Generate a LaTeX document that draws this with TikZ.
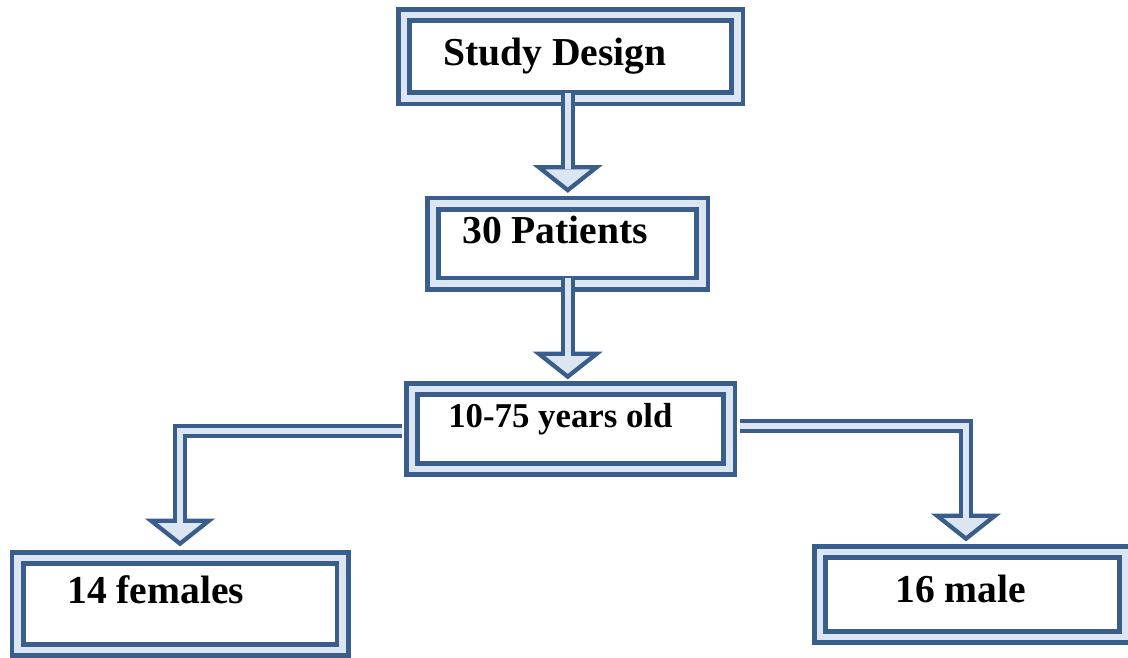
\documentclass[tikz,border=0pt]{standalone}
\usepackage{fontspec}
\setmainfont{Liberation Serif}
\usetikzlibrary{calc}
\definecolor{bxd}{HTML}{3A5E8C}
\definecolor{bxl}{HTML}{DCE6F2}
\tikzset{
    box/.style={rectangle,draw=bxd,line width=3.5pt,double=bxl,double distance=5pt,fill=white,inner sep=0pt},
    shaft/.style={draw=bxd,line width=3.3pt,double=bxl,double distance=4.2pt},
    head/.style={draw=bxd,fill=bxl,line width=3.2pt},
    txt/.style={font=\bfseries\fontsize{29.7}{34}\selectfont,inner sep=0pt,anchor=base west}
}

\begin{document}
\begin{tikzpicture}[x=0.75pt,y=-0.75pt]
            \useasboundingbox (0,0) rectangle (1128,657);
            % boxes
            \node [box,minimum width=250.1pt,minimum height=62.6pt] (design) at (570.75,56.75) {};
            \node [box,minimum width=202.1pt,minimum height=60pt] (patients) at (567.75,243.5) {};
            \node [box,minimum width=238.1pt,minimum height=60pt] (years) at (570.75,429) {};
            \node [box,minimum width=243.75pt,minimum height=69pt] (females) at (180,604) {};
            \node [box,minimum width=229.1pt,minimum height=63.75pt] (male) at (972.75,594.5) {};
            \node [txt] (design-t) at (443,65) {Study Design};
            \node [txt] (patients-t) at (462,243) {30 Patients};
            \node [txt,font=\bfseries\fontsize{26.1}{30}\selectfont] (years-t) at (448,427) {10-75 years old};
            \node [txt] (females-t) at (67,603) {14 females};
            \node [txt] (male-t) at (895,602) {16 male};
            % arrow tips
            \coordinate (t1) at ($(patients.north)+(0,-11)$);
            \coordinate (t2) at ($(years.north -| patients.north)+(0,-10)$);
            \coordinate (t3) at ($(females.north)+(0,-12)$);
            \coordinate (t4) at ($(male.north)+(-6.75,-11)$);
            \foreach \t in {t1,t2,t3,t4} {
                \filldraw [head] ($(\t)+(-29,-23)$) -- (\t) -- ($(\t)+(29,-23)$) -- cycle;
            }
            % shafts
            \draw [shaft] ($(design.south -| t1)+(0,-8)$) -- ($(t1)+(0,-21)$);
            \draw [shaft] ($(patients.south)+(0,-8)$) -- ($(t2)+(0,-21)$);
            \draw [shaft] ($(years.west)+(-8,2)$) -| ($(t3)+(0,-21)$);
            \draw [shaft] ($(years.east)+(8,-3)$) -| ($(t4)+(0,-21)$);
        \end{tikzpicture}
\end{document}
